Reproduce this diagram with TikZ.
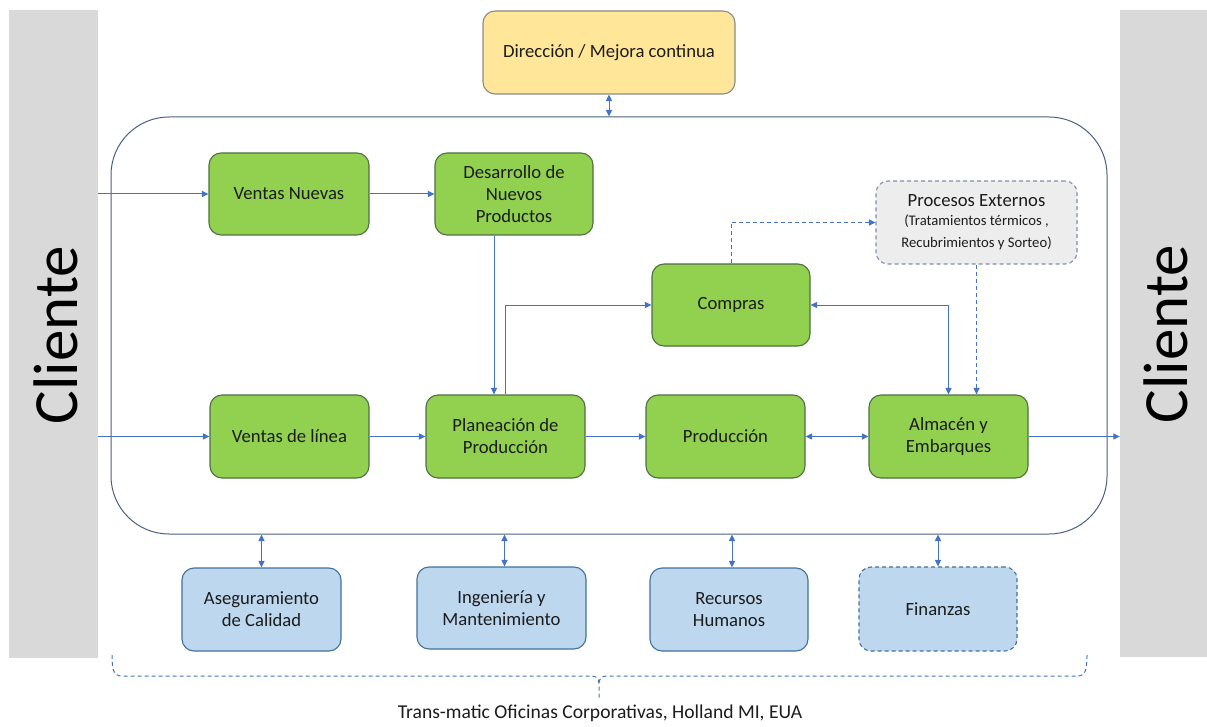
\documentclass[tikz,border=0pt]{standalone}
\usepackage{fontspec}
\setmainfont{Carlito}
\usetikzlibrary{arrows.meta,calc}
\definecolor{gfill}{HTML}{92D050}
\definecolor{gline}{HTML}{4F6F45}
\definecolor{bfill}{HTML}{BDD7EE}
\definecolor{bline}{HTML}{41719C}
\definecolor{yfill}{HTML}{FFE699}
\definecolor{yline}{HTML}{8A8A8A}
\definecolor{cline}{HTML}{4472C4}
\definecolor{barfill}{HTML}{D9D9D9}
\definecolor{pfill}{HTML}{EDEDED}
\definecolor{pline}{HTML}{7F8FA9}
\definecolor{rline}{HTML}{4A5F80}
\definecolor{txt}{HTML}{1C1C1C}
\tikzset{
  box/.style={rounded corners=12pt, draw, line width=1.1pt, align=center, inner sep=0pt,
    minimum width=159pt, minimum height=83pt, font=\fontsize{18.67}{22}\selectfont, text=txt},
  gbox/.style={box, fill=gfill, draw=gline},
  bbox/.style={box, fill=bfill, draw=bline},
  tip/.tip={Triangle[length=6.5pt,width=6pt]},
  arr/.style={draw=cline, line width=1pt, -tip},
  darr/.style={draw=cline, line width=1pt, tip-tip},
  dsh/.style={dash pattern=on 4pt off 3pt},
  bar/.style={fill=barfill, draw=none, inner sep=0pt},
  bigtxt/.style={rotate=90, font=\fontsize{63}{63}\selectfont, text=black}
}
\begin{document}
\begin{tikzpicture}[x=1pt,y=-1pt]
\useasboundingbox (0,0) rectangle (1207,727);
% side bars
\node[bar, minimum width=89pt, minimum height=648pt] (cl1) at (53.5,334) {};
\node[bar, minimum width=87pt, minimum height=647pt] (cl2) at (1163.5,333.5) {};
\node[bigtxt] (cl1t) at (56,335) {Cliente};
\node[bigtxt] (cl2t) at (1166,334) {Cliente};
% main rounded frame
\node[draw=rline, line width=1pt, rounded corners=58pt, minimum width=996pt, minimum height=417pt, inner sep=0pt] (main) at (609,325.5) {};
% top box
\node[box, fill=yfill, draw=yline, minimum width=252pt] (dir) at (609,52.5) {Dirección / Mejora continua};
% green boxes
\node[gbox, minimum width=160pt, minimum height=82pt] (vn) at (289,194) {Ventas Nuevas};
\node[gbox, minimum width=158pt, minimum height=82pt] (dnp) at (514,194) {Desarrollo de\\Nuevos\\Productos};
\node[box, fill=pfill, draw=pline, dsh, minimum width=201pt] (pe) at (976.5,222.5)
  {Procesos Externos\\[-3pt]\fontsize{14.67}{17}\selectfont (Tratamientos térmicos ,\\\fontsize{14.67}{17}\selectfont Recubrimientos y Sorteo)};
\node[gbox, minimum width=158pt, minimum height=82pt] (comp) at (731,305) {Compras};
\node[gbox] (vl) at (289.5,436.5) {Ventas de línea};
\node[gbox] (plan) at (505.5,436.5) {Planeación de\\Producción};
\node[gbox] (prod) at (725.5,436.5) {Producción};
\node[gbox] (alm) at (948.5,436.5) {Almacén y\\Embarques};
% blue boxes
\node[bbox] (ase) at (261.5,609.5) {Aseguramiento\\de Calidad};
\node[bbox, minimum width=169pt, minimum height=82pt] (ing) at (501.5,608) {Ingeniería y\\Mantenimiento};
\node[bbox, minimum width=158pt] (rec) at (729,609.5) {Recursos\\Humanos};
\node[bbox, dsh, minimum width=158pt, minimum height=84pt] (fin) at (938,609) {Finanzas};
% connectors
\draw[arr] (vn.west -| cl1.east) -- (vn.west);
\draw[arr] (vn) -- (dnp);
\draw[arr] ([xshift=-20pt]dnp.south) -- ([xshift=-20pt]dnp.south |- plan.north);
\draw[arr] (plan.north) |- (comp.west);
\draw[arr, dsh] (comp.north) |- (pe.west);
\draw[darr] (comp.east) -| (alm.north);
\draw[arr, dsh] (pe.south) -- (pe.south |- alm.north);
\draw[arr] (vl.west -| cl1.east) -- (vl.west);
\draw[arr] (vl) -- (plan);
\draw[arr] (plan) -- (prod);
\draw[darr] (prod) -- (alm);
\draw[arr] (alm.east) -- (alm.east -| cl2.west);
\draw[darr] (dir.south) -- (dir.south |- main.north);
\draw[darr] (ase.north |- main.south) -- (ase.north);
\draw[darr] ([xshift=3pt]ing.north |- main.south) -- ([xshift=3pt]ing.north);
\draw[darr] ([xshift=3pt]rec.north |- main.south) -- ([xshift=3pt]rec.north);
\draw[darr] (fin.north |- main.south) -- (fin.north);
% bottom brace
\draw[cline, dsh, line width=1pt] (112,655) .. controls (112,671) and (114,676) .. (122,676) -- (591,676)
  .. controls (596,676) and (599,678) .. (599,684) -- (599,700);
\draw[cline, dsh, line width=1pt] (1087,655) .. controls (1087,671) and (1085,676) .. (1077,676) -- (607,676)
  .. controls (602,676) and (599,678) .. (599,684);
\node[font=\fontsize{19.6}{23}\selectfont, text=txt] (corp) at (600,713) {Trans-matic Oficinas Corporativas, Holland MI, EUA};
\end{tikzpicture}
\end{document}
